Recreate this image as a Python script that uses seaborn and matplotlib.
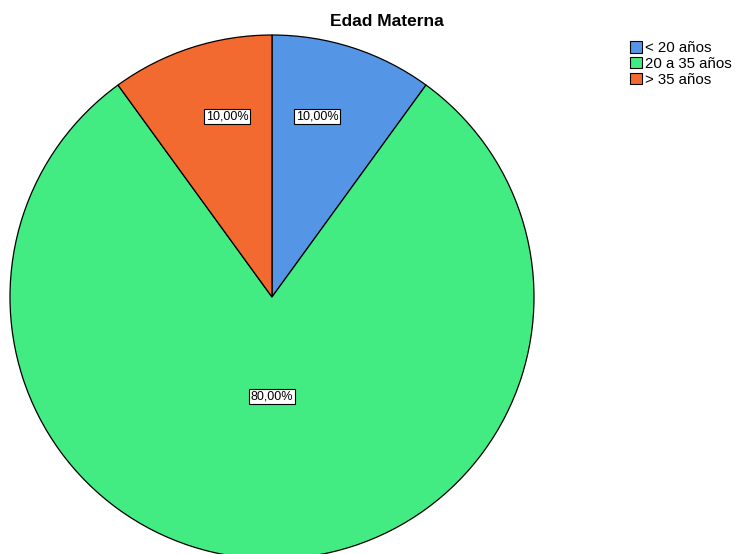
import matplotlib
matplotlib.use("Agg")
import matplotlib.pyplot as plt
import matplotlib.patches as mpatches
import numpy as np
import seaborn as sns

categories = ["< 20 años", "20 a 35 años", "> 35 años"]
values = [10.0, 80.0, 10.0]
colors = ["#5595E6", "#42EC82", "#F26A2F"]

sns.set_style("white")
plt.rcParams["font.family"] = ["Liberation Sans", "DejaVu Sans"]
plt.rcParams["text.color"] = "black"

W, H = 735, 554
fig = plt.figure(figsize=(W / 100, H / 100), dpi=100)

# pie centre and radius in pixels
cx, cy, r = 272, 297, 262
ax = fig.add_axes([(cx - r) / W, (H - cy - r) / H, 2 * r / W, 2 * r / H])

wedges, _ = ax.pie(values, colors=colors, startangle=90, counterclock=False,
                   radius=1.0, center=(0, 0),
                   wedgeprops=dict(edgecolor="black", linewidth=0.9))
ax.set_xlim(-1, 1)
ax.set_ylim(-1, 1)
ax.set_aspect("equal")
ax.axis("off")

# percentage labels placed inside each wedge
label_pos = [(0.71, 4), (0.38, 0), (0.71, -4)]
for w, v, (rad, shift) in zip(wedges, values, label_pos):
    mid = np.deg2rad((w.theta1 + w.theta2) / 2 + shift)
    ax.text(rad * np.cos(mid), rad * np.sin(mid), f"{v:.2f}%".replace(".", ","),
            ha="center", va="center", fontsize=9, color="black",
            bbox=dict(boxstyle="square,pad=0.12", facecolor="white",
                      edgecolor="black", linewidth=0.8))

fig.text(387 / W, 1 - 21 / H, "Edad Materna", ha="center", va="center",
         fontsize=12.5, fontweight="bold", color="black")

handles = [mpatches.Patch(facecolor=c, edgecolor="black", linewidth=0.8, label=l)
           for c, l in zip(colors, categories)]
leg = fig.legend(handles=handles, loc="upper left",
                 bbox_to_anchor=(630 / W, 1 - 41 / H),
                 frameon=False, fontsize=10.8, handlelength=0.8, handleheight=0.8,
                 handletextpad=0.2, labelspacing=0.12, borderpad=0, borderaxespad=0)
for t in leg.get_texts():
    t.set_color("black")

fig.savefig("out.png", dpi=100)
